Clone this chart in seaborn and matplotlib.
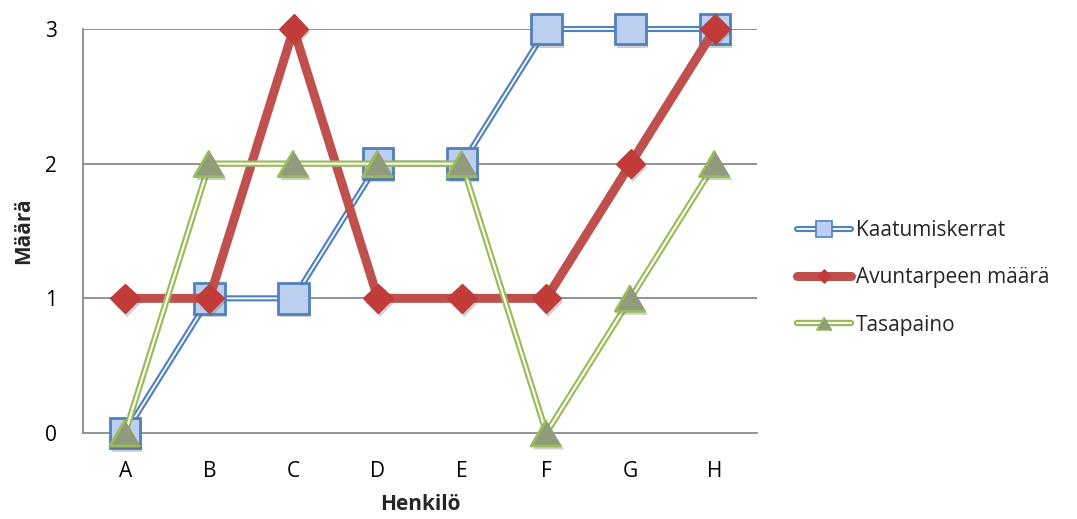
import matplotlib
matplotlib.use("Agg")
import matplotlib.pyplot as plt
import matplotlib.patheffects as pe
from matplotlib.lines import Line2D
from matplotlib.legend_handler import HandlerTuple
import pandas as pd
import seaborn as sns

# Data
henkilot = ["A", "B", "C", "D", "E", "F", "G", "H"]
kaatumiskerrat = [0, 1, 1, 2, 2, 3, 3, 3]
avuntarpeen_maara = [1, 1, 3, 1, 1, 1, 2, 3]
tasapaino = [0, 2, 2, 2, 2, 0, 1, 2]
y_ticks = [0, 1, 2, 3]

sns.set_theme(style="white")
plt.rcParams["font.family"] = ["Open Sans", "DejaVu Sans"]

DPI = 100
fig = plt.figure(figsize=(1077 / DPI, 519 / DPI), dpi=DPI)
W, H = 1077, 519
left, right, top, bottom = 83, 757, 29, 433
ax = fig.add_axes([left / W, 1 - bottom / H, (right - left) / W, (bottom - top) / H])

BLUE = "#4f81bd"
RED = "#c0504d"
GREEN = "#9bbb59"
GRID = "#8a8a8a"
FS = 15

df = pd.DataFrame({
    "Henkilö": henkilot,
    "Kaatumiskerrat": kaatumiskerrat,
    "Avuntarpeen määrä": avuntarpeen_maara,
    "Tasapaino": tasapaino,
})

shadow = [pe.SimplePatchShadow(offset=(1.5, -2.5), shadow_rgbFace="#666666", alpha=0.3), pe.Normal()]
tri = [(0, 0.85), (-1, -0.85), (1, -0.85)]

series = [
    # name, colour, outer width, inner white width, marker, size, face, edge, edge width
    ("Kaatumiskerrat", BLUE, 4.4, 1.3, "s", 22, "#bccff0", BLUE, 2.0),
    ("Avuntarpeen määrä", RED, 6.5, 0, "D", 15, "#c33b38", "#b8403c", 1.0),
    ("Tasapaino", GREEN, 4.6, 1.5, tri, 22, "#8f9b7b", GREEN, 2.0),
]

for i, (name, col, lw_out, lw_in, mk, ms, face, edge, mew) in enumerate(series):
    z = 3 + i * 3
    sns.lineplot(data=df, x="Henkilö", y=name, ax=ax, color=col, linewidth=lw_out,
                 sort=False, zorder=z, solid_capstyle="round", solid_joinstyle="round",
                 clip_on=False)
    if lw_in:
        sns.lineplot(data=df, x="Henkilö", y=name, ax=ax, color="white", linewidth=lw_in,
                     sort=False, zorder=z + 0.5, clip_on=False)
    sns.lineplot(data=df, x="Henkilö", y=name, ax=ax, color=col, linestyle="none",
                 marker=mk, markersize=ms, markerfacecolor=face, markeredgecolor=edge,
                 markeredgewidth=mew, sort=False, zorder=z + 1, clip_on=False,
                 path_effects=shadow)

ax.set_xlim(-0.5, len(henkilot) - 0.5)
ax.set_ylim(0, 3)
ax.set_yticks(y_ticks)
ax.set_yticklabels([str(v) for v in y_ticks])
ax.set_xticks(range(len(henkilot)))
ax.set_xticklabels(henkilot)
ax.tick_params(axis="both", length=0, labelsize=FS, colors="#000000")
ax.tick_params(axis="y", pad=19)
ax.tick_params(axis="x", pad=20)

ax.grid(False)
for v in y_ticks[1:]:
    ax.axhline(v, color=GRID, linewidth=1.3, zorder=1)
for s in ["top", "right"]:
    ax.spines[s].set_visible(False)
for s in ["left", "bottom"]:
    ax.spines[s].set_color(GRID)
    ax.spines[s].set_linewidth(1.3)

ax.set_xlabel("Henkilö", fontsize=FS, fontweight="bold")
ax.set_ylabel("Määrä", fontsize=FS, fontweight="bold")
ax.xaxis.label.set_va("center")
ax.xaxis.set_label_coords(0.5, (bottom - 505) / (bottom - top))
ax.yaxis.label.set_va("center")
ax.yaxis.set_label_coords((24 - left) / (right - left), 0.5)

# Legend built from double-line handles
handles = []
labels = []
for name, col, lw_out, lw_in, mk, ms, face, edge, mew in series:
    parts = [Line2D([], [], color=col, linewidth=lw_out, solid_capstyle="round")]
    if lw_in:
        parts.append(Line2D([], [], color="white", linewidth=lw_in))
    parts.append(Line2D([], [], color=col, linestyle="none", marker=mk, markersize=ms * 0.5,
                        markerfacecolor=face, markeredgecolor=edge, markeredgewidth=mew * 0.6))
    handles.append(tuple(parts))
    labels.append(name)

fig.legend(handles, labels, handler_map={tuple: HandlerTuple(ndivide=1, pad=0)},
           loc="center left", bbox_to_anchor=(797 / W, 1 - 278 / H), frameon=False,
           fontsize=FS, handlelength=2.6, handletextpad=0.25, labelspacing=1.25,
           borderpad=0, borderaxespad=0)

fig.savefig("out.png", dpi=DPI, facecolor="white")
